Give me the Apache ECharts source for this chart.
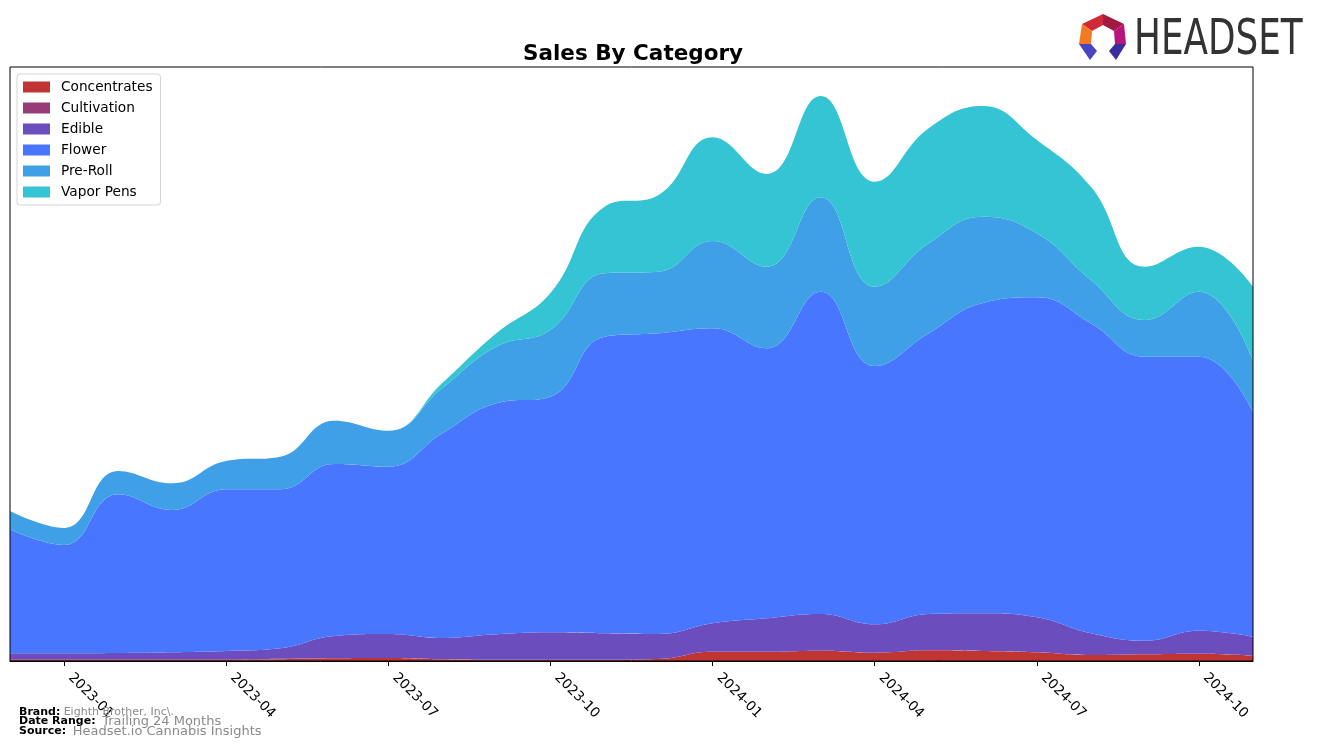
<!DOCTYPE html>
<html>
<head>
<meta charset="utf-8">
<script src="https://cdn.jsdelivr.net/npm/echarts@6/dist/echarts.min.js"></script>
<style>
html,body{margin:0;padding:0;background:#fff;}
#chart{width:1317px;height:748px;}
</style>
</head>
<body>
<div id="chart"></div>
<script>
// Monthly categories
const months = ['2022-12','2023-01','2023-02','2023-03','2023-04','2023-05','2023-06','2023-07','2023-08','2023-09','2023-10','2023-11','2023-12','2024-01','2024-02','2024-03','2024-04','2024-05','2024-06','2024-07','2024-08','2024-09','2024-10','2024-11'];
const tickMonths = ['01','04','07','10'];

// Series values (relative sales units)
const concentrates = [1,1,1,1,1,1.7,2.7,3,1.7,1.3,1.3,1.3,2,9.3,9.3,10.3,8.3,10.7,10,8.7,6,6.7,7.3,5.3];
const cultivation  = [0.7,0.7,0.7,0.7,0.7,0.5,0,0,0,0,0,0,0,0,0,0,0,0,0,0,0,0,0,0];
const edible       = [6,6,6.3,7,8.3,10.5,22.3,24,21.3,25.4,27.4,26.4,25,28.4,33.4,36.7,28.4,36.3,37.7,35,21.7,13.6,23,19];
const flower       = [124,108.3,158.7,142.3,161.7,159,172,167.3,204.7,231,235.6,296.6,300.7,295,270,322.3,258.3,280.7,310.3,320,310,284,274,225];
const preRoll      = [18.3,17,23.3,26.7,28.3,32.6,43.3,36,45.3,56.6,66.7,63.4,61.6,87.3,81.6,94.4,79.3,90,86.3,64,43.3,36.7,65,51.7];
const vaporPens    = [0,0,0,0,0,0,0,0,5,13.4,37,66.6,76.7,103.7,92.7,101.3,105,115,110.7,93.3,93.3,53.3,45,73.3];

const seriesNames = ['Concentrates','Cultivation','Edible','Flower','Pre-Roll','Vapor Pens'];
const seriesData = [concentrates, cultivation, edible, flower, preRoll, vaporPens];
const colors = ['#C13434','#963C78','#6B4DBE','#4876FF','#3FA0E8','#35C4D3'];

const chart = echarts.init(document.getElementById('chart'), null, {renderer:'canvas'});

const isTick = (idx, val) => tickMonths.indexOf(String(val).slice(5)) >= 0;

const option = {
  animation: false,
  backgroundColor: '#fff',
  color: colors,
  title: {
    text: 'Sales By Category',
    left: 628, top: 38, textAlign: 'center',
    textStyle: {fontFamily: 'DejaVu Sans', fontWeight: 'bold', fontSize: 21.5, color: '#000'}
  },
  legend: {
    orient: 'vertical',
    left: 17, top: 74,
    padding: [6, 8, 6, 6],
    borderColor: '#d5d5d5', borderWidth: 1, borderRadius: 3,
    backgroundColor: '#fff',
    itemWidth: 27, itemHeight: 11, itemGap: 7,
    icon: 'rect',
    textStyle: {fontFamily: 'DejaVu Sans', fontSize: 13.7, color: '#000', padding: [0,0,0,6], lineHeight: 13},
    data: seriesNames
  },
  grid: {left: 10, right: 64, top: 67, bottom: 87, containLabel: false},
  xAxis: {
    type: 'category',
    data: months,
    boundaryGap: false,
    axisLine: {show: true, lineStyle: {color: '#000', width: 1}},
    axisTick: {show: true, interval: isTick, length: 5, lineStyle: {color: '#000'}},
    axisLabel: {show: true, interval: isTick, rotate: -45, margin: 8, padding: [0,0,0,9],
      fontFamily: 'DejaVu Sans', fontSize: 13.7, color: '#000'},
    splitLine: {show: false}
  },
  yAxis: {
    type: 'value', min: 0, max: 594,
    axisLine: {show: false}, axisTick: {show: false}, axisLabel: {show: false}, splitLine: {show: false}
  },
  series: seriesNames.map((name, i) => ({
    name: name,
    type: 'line',
    stack: 'total',
    data: seriesData[i],
    smooth: 0.45,
    symbol: 'none',
    lineStyle: {width: 0},
    areaStyle: {color: colors[i], opacity: 1},
    itemStyle: {color: colors[i]},
    emphasis: {disabled: true}
  })),
  graphic: [
    {type: 'rect', z: 100, silent: true, shape: {x: 10, y: 67, width: 1243, height: 594},
      style: {fill: null, stroke: '#000', lineWidth: 1}},
    // bottom info text
    {type: 'text', left: 19, top: 706, z: 100, style: {
      text: '{b|Brand:} {g|Eighth Brother, Inc\\.}',
      rich: {b: {fontFamily: 'DejaVu Sans', fontWeight: 'bold', fontSize: 11, fill: '#000'},
             g: {fontFamily: 'DejaVu Sans', fontSize: 11, fill: '#8a8a8a'}}}},
    {type: 'text', left: 19, top: 715, z: 100, style: {
      text: '{b|Date Range:}  {g|Trailing 24 Months}',
      rich: {b: {fontFamily: 'DejaVu Sans', fontWeight: 'bold', fontSize: 11, fill: '#000'},
             g: {fontFamily: 'DejaVu Sans', fontSize: 13, fill: '#8a8a8a'}}}},
    {type: 'text', left: 19, top: 725, z: 100, style: {
      text: '{b|Source:}  {g|Headset.io Cannabis Insights}',
      rich: {b: {fontFamily: 'DejaVu Sans', fontWeight: 'bold', fontSize: 11, fill: '#000'},
             g: {fontFamily: 'DejaVu Sans', fontSize: 13, fill: '#8a8a8a'}}}},
    // logo text
    {type: 'text', x: 1134, y: 16, z: 100, scaleX: 0.795, style: {
      text: 'HEADSET', fontFamily: 'DejaVu Sans Condensed', fontSize: 50, fill: '#333333'}},
    // logo icon
    {type: 'group', z: 100, children: [
      {type: 'polygon', shape: {points: [[1103,14],[1103,25],[1092,31],[1082,24]]}, style: {fill: '#D02A3A'}},
      {type: 'polygon', shape: {points: [[1103,14],[1124,24],[1114,31],[1103,25]]}, style: {fill: '#A3183F'}},
      {type: 'polygon', shape: {points: [[1124,24],[1126,44],[1115,44],[1114,31]]}, style: {fill: '#B8147E'}},
      {type: 'polygon', shape: {points: [[1082,24],[1092,31],[1091,44],[1079,44]]}, style: {fill: '#F27A22'}},
      {type: 'polygon', shape: {points: [[1079,44],[1091,44],[1097,51],[1090,60]]}, style: {fill: '#4B44C0'}},
      {type: 'polygon', shape: {points: [[1126,44],[1115,44],[1109,51],[1116,60]]}, style: {fill: '#3A2E9E'}}
    ]}
  ]
};
chart.setOption(option);
</script>
</body>
</html>
